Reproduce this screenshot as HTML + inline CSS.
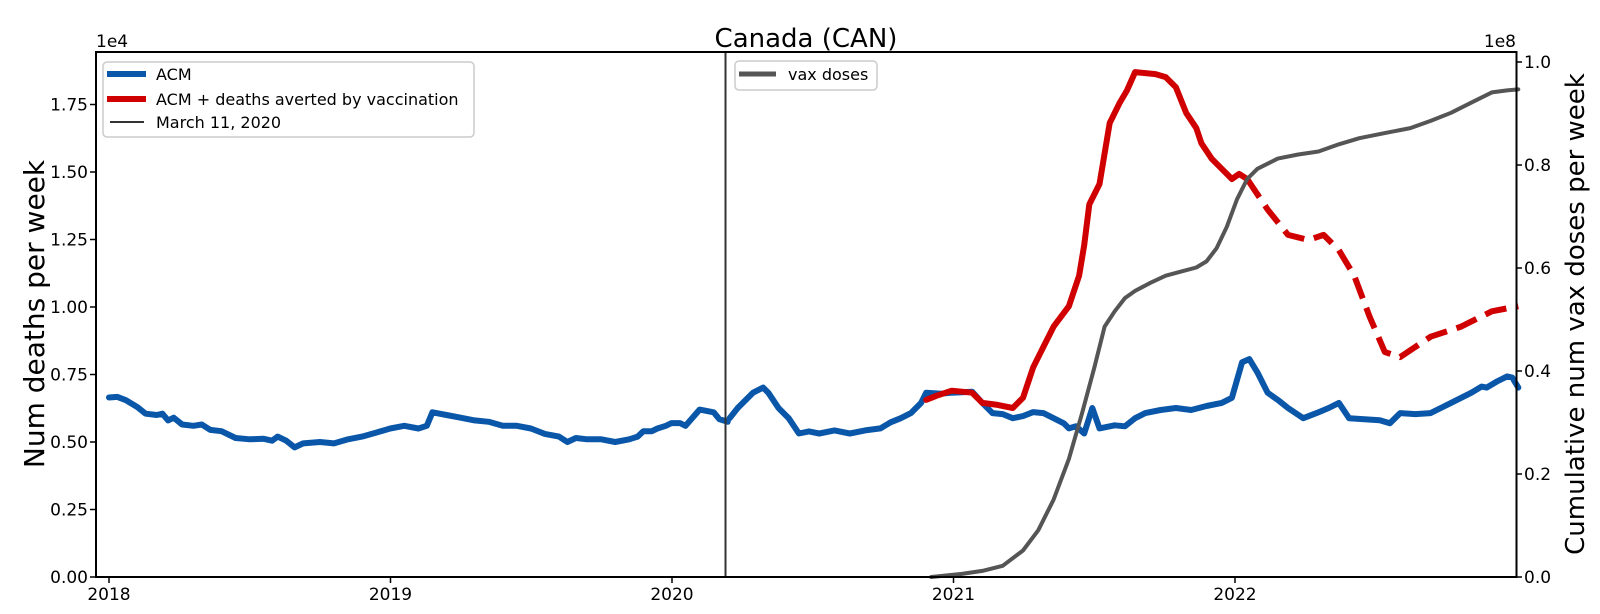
<!DOCTYPE html>
<html><head><meta charset="utf-8"><style>
html,body{margin:0;padding:0;background:#fff;}
svg{display:block;font-family:"DejaVu Sans","Liberation Sans",sans-serif;}
</style></head><body>
<svg width="1600" height="614" viewBox="0 0 1600 614" xmlns="http://www.w3.org/2000/svg">
<rect width="1600" height="614" fill="#fff"/>
<text x="806" y="47" font-size="26" text-anchor="middle" fill="#000">Canada (CAN)</text>
<g id="series"></g>
<line x1="725.5" y1="52" x2="725.5" y2="577" stroke="#333" stroke-width="2"/>
<rect x="96" y="52" width="1420.5" height="525" fill="none" stroke="#000" stroke-width="2"/>
<g font-size="17" fill="#000" id="ticks"></g>
<text x="96" y="47" font-size="17">1e4</text>
<text x="1516" y="47" font-size="17" text-anchor="end">1e8</text>
<text transform="translate(44,314) rotate(-90)" font-size="28" text-anchor="middle">Num deaths per week</text>
<text transform="translate(1584,314) rotate(-90)" font-size="26" text-anchor="middle">Cumulative num vax doses per week</text>
<g>
<rect x="103" y="62" width="371" height="75" rx="4" fill="#fff" stroke="#ccc" stroke-width="1.5"/>
<line x1="107" y1="74" x2="146" y2="74" stroke="#0a56a8" stroke-width="6"/>
<text x="156" y="80" font-size="16">ACM</text>
<line x1="107" y1="99" x2="146" y2="99" stroke="#d00000" stroke-width="6"/>
<text x="156" y="105" font-size="16">ACM + deaths averted by vaccination</text>
<line x1="110" y1="122" x2="144" y2="122" stroke="#333" stroke-width="2"/>
<text x="156" y="128" font-size="16">March 11, 2020</text>
<rect x="735" y="61" width="142" height="29" rx="4" fill="#fff" stroke="#ccc" stroke-width="1.5"/>
<line x1="739" y1="74" x2="776" y2="74" stroke="#555" stroke-width="5"/>
<text x="788" y="80" font-size="16">vax doses</text>
</g>
<script>
(function(){
var ns="http://www.w3.org/2000/svg";
function tx(x){return 1.019*x+4.04;}
function ty(y){return 1.018*y+0.8;}
function path(pts,col,w,dash){
 var d=pts.map(function(p,i){return (i?"L":"M")+tx(p[0]).toFixed(1)+" "+ty(p[1]).toFixed(1);}).join(" ");
 var e=document.createElementNS(ns,"path");e.setAttribute("d",d);e.setAttribute("fill","none");
 e.setAttribute("stroke",col);e.setAttribute("stroke-width",w);e.setAttribute("stroke-linejoin","round");e.setAttribute("stroke-linecap",dash?"butt":"round");
 if(dash)e.setAttribute("stroke-dasharray",dash);
 document.getElementById("series").appendChild(e);}
function yl(v){return 566-v*265.2;}
function xy(yr_){return 103+(yr_-2018)*276;}
var blueEarly=[[2018,.665],[2018.03,.667],[2018.06,.655],[2018.1,.63],[2018.13,.605],[2018.17,.60],[2018.19,.605],[2018.21,.58],[2018.23,.59],[2018.26,.565],[2018.3,.56],[2018.33,.565],[2018.36,.545],[2018.4,.54],[2018.45,.515],[2018.5,.51],[2018.55,.512],[2018.58,.505],[2018.6,.52],[2018.63,.505],[2018.66,.48],[2018.69,.495],[2018.75,.50],[2018.8,.495],[2018.85,.51],[2018.9,.52],[2018.95,.535],[2019,.55],[2019.05,.56],[2019.1,.55],[2019.13,.56],[2019.15,.61],[2019.2,.60],[2019.25,.59],[2019.3,.58],[2019.35,.575],[2019.4,.56],[2019.45,.56],[2019.5,.55],[2019.55,.53],[2019.6,.52],[2019.63,.50],[2019.66,.515],[2019.7,.51],[2019.75,.51],[2019.8,.50],[2019.85,.51],[2019.88,.52],[2019.9,.54],[2019.93,.54],[2019.95,.55],[2019.98,.56],[2020,.57],[2020.03,.57],[2020.05,.56],[2020.1,.62],[2020.15,.61],[2020.17,.585],[2020.2,.575]].map(function(p){return [xy(p[0]),yl(p[1])];});
var blueLate=[[712,410],[720,400],[735,385],[745,380],[750,385],[760,400],[770,410],[780,425],[790,423],[800,425],[815,422],[830,425],[845,422],[860,420],[870,414],[880,410],[890,405],[900,395],[905,385],[920,386],[930,385],[950,384],[960,395],[970,405],[980,406],[990,410],[1000,408],[1010,404],[1020,405],[1030,410],[1040,415],[1045,420],[1052,418],[1060,425],[1068,400],[1075,420],[1090,417],[1100,418],[1110,410],[1120,405],[1135,402],[1150,400],[1165,402],[1180,398],[1195,395],[1205,390],[1215,355],[1222,352],[1230,365],[1240,385],[1250,392],[1260,400],[1275,410],[1288,405],[1300,400],[1310,395],[1320,410],[1335,411],[1350,412],[1360,415],[1370,405],[1385,406],[1400,405],[1410,400],[1420,395],[1430,390],[1440,385],[1450,379],[1455,380],[1465,374],[1475,369],[1480,370],[1486,380]];
var gray=[[910,566],[940,563],[960,560],[980,555],[1000,540],[1015,520],[1030,490],[1045,450],[1058,405],[1070,360],[1080,320],[1090,305],[1100,292],[1110,285],[1125,277],[1140,270],[1155,266],[1170,262],[1180,256],[1190,243],[1200,222],[1210,195],[1220,175],[1230,165],[1240,160],[1250,155],[1270,151],[1290,148],[1310,141],[1330,135],[1355,130],[1380,125],[1400,118],[1420,110],[1440,100],[1460,90],[1475,88],[1486,87]];
var redS=[[905,392],[915,388],[930,383],[950,385],[960,395],[975,397],[990,400],[1000,390],[1010,360],[1020,340],[1030,320],[1045,300],[1055,270],[1060,240],[1065,200],[1075,180],[1080,150],[1085,120],[1095,100],[1102,88],[1110,70],[1120,71],[1130,72],[1140,75],[1150,85],[1160,110],[1170,125],[1175,140],[1185,155],[1190,160],[1205,175],[1212,170],[1220,175]];
var redD=[[1220,175],[1240,205],[1260,230],[1280,235],[1295,230],[1310,245],[1325,270],[1340,310],[1355,345],[1370,350],[1385,340],[1400,330],[1430,320],[1460,305],[1486,300]];
path(blueEarly,"#0a56a8",6);
path(blueLate,"#0a56a8",6);
path(redS,"#d00000",6);
path(redD,"#d00000",6,"22 10");
path(gray,"#555",4);
var g=document.getElementById("ticks");
function t(x,y,s,a){var e=document.createElementNS(ns,"text");e.setAttribute("x",x);e.setAttribute("y",y);e.setAttribute("text-anchor",a);e.textContent=s;g.appendChild(e);}
function ln(x1,y1,x2,y2){var e=document.createElementNS(ns,"line");e.setAttribute("x1",x1);e.setAttribute("y1",y1);e.setAttribute("x2",x2);e.setAttribute("y2",y2);e.setAttribute("stroke","#000");e.setAttribute("stroke-width","1.5");g.appendChild(e);}
["0.00","0.25","0.50","0.75","1.00","1.25","1.50","1.75"].forEach(function(s,i){var y=577-i*67.5;ln(90,y,96,y);t(88,y+6,s,"end");});
["0.0","0.2","0.4","0.6","0.8","1.0"].forEach(function(s,i){var y=577-i*103;ln(1516,y,1522,y);t(1524,y+6,s,"start");});
["2018","2019","2020","2021","2022"].forEach(function(s,i){var x=109+i*281.5;ln(x,577,x,583);t(x,600,s,"middle");});
})();
</script>
</svg>
</body></html>
